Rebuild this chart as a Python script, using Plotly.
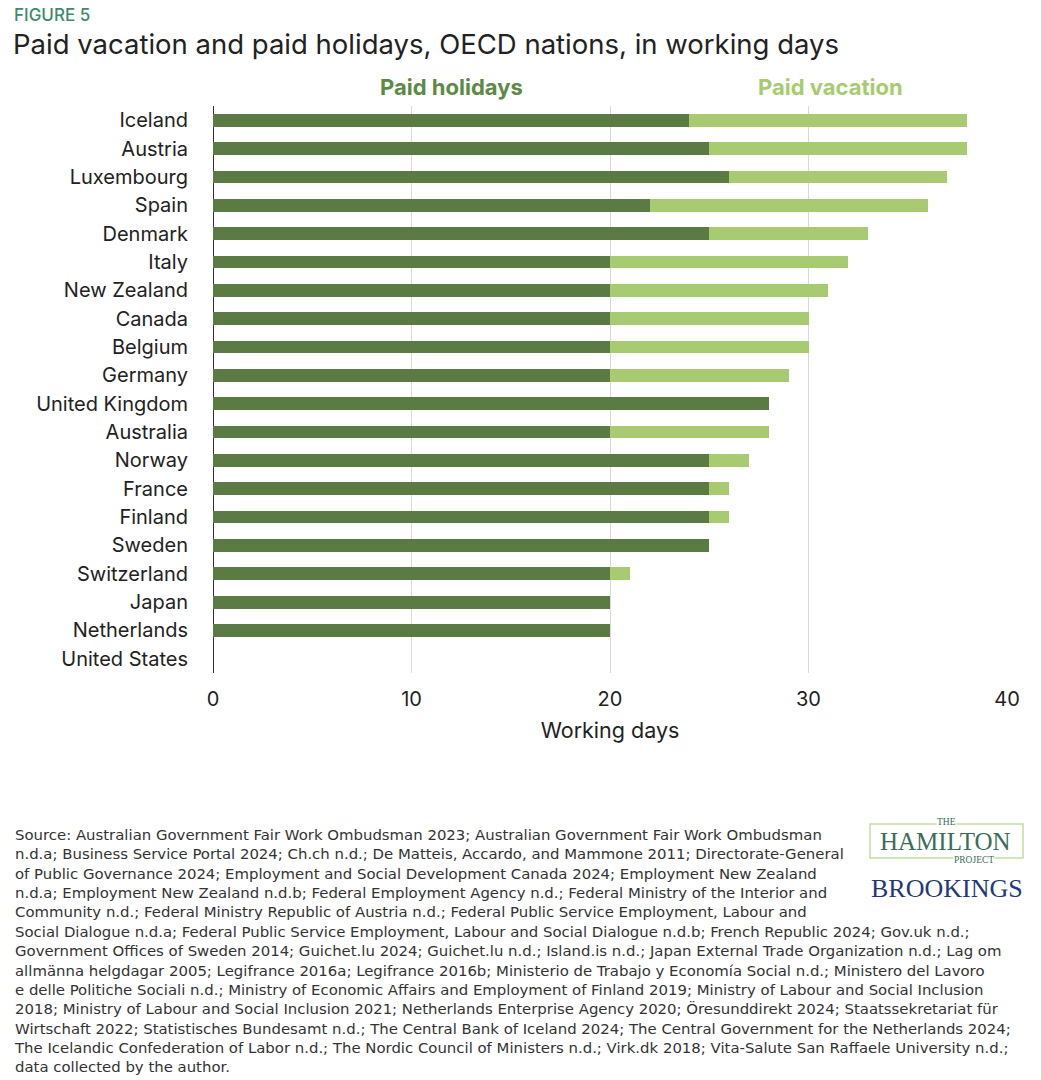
import plotly.graph_objects as go

countries = ["Iceland", "Austria", "Luxembourg", "Spain", "Denmark", "Italy", "New Zealand",
             "Canada", "Belgium", "Germany", "United Kingdom", "Australia", "Norway", "France",
             "Finland", "Sweden", "Switzerland", "Japan", "Netherlands", "United States"]
paid_holidays = [24, 25, 26, 22, 25, 20, 20, 20, 20, 20, 28, 20, 25, 25, 25, 25, 20, 20, 20, 0]
paid_vacation = [14, 13, 11, 14, 8, 12, 11, 10, 10, 9, 0, 8, 2, 1, 1, 0, 1, 0, 0, 0]
x_ticks = [0, 10, 20, 30, 40]

DARK = "#5a7c44"
LIGHT = "#a8cb72"
BODY = "Inter, Noto Sans, sans-serif"
SERIF = "Liberation Serif, DejaVu Serif, serif"

W, H = 1041, 1080
L, R, T, B = 213, 34, 106, 407
pw, ph = W - L - R, H - T - B

def px(x):
    return (x - L) / pw

def py(y):
    return (H - B - y) / ph

fig = go.Figure()
fig.add_trace(go.Bar(y=countries, x=paid_holidays, orientation="h", marker_color=DARK,
                     marker_line_width=0, width=0.45, name="Paid holidays"))
fig.add_trace(go.Bar(y=countries, x=paid_vacation, orientation="h", marker_color=LIGHT,
                     marker_line_width=0, width=0.45, name="Paid vacation"))

source = ("Source: Australian Government Fair Work Ombudsman 2023; Australian Government Fair Work Ombudsman<br>"
          "n.d.a; Business Service Portal 2024; Ch.ch n.d.; De Matteis, Accardo, and Mammone 2011; Directorate-General<br>"
          "of Public Governance 2024; Employment and Social Development Canada 2024; Employment New Zealand<br>"
          "n.d.a; Employment New Zealand n.d.b; Federal Employment Agency n.d.; Federal Ministry of the Interior and<br>"
          "Community n.d.; Federal Ministry Republic of Austria n.d.; Federal Public Service Employment, Labour and<br>"
          "Social Dialogue n.d.a; Federal Public Service Employment, Labour and Social Dialogue n.d.b; French Republic 2024; Gov.uk n.d.;<br>"
          "Government Offices of Sweden 2014; Guichet.lu 2024; Guichet.lu n.d.; Island.is n.d.; Japan External Trade Organization n.d.; Lag om<br>"
          "allmänna helgdagar 2005; Legifrance 2016a; Legifrance 2016b; Ministerio de Trabajo y Economía Social n.d.; Ministero del Lavoro<br>"
          "e delle Politiche Sociali n.d.; Ministry of Economic Affairs and Employment of Finland 2019; Ministry of Labour and Social Inclusion<br>"
          "2018; Ministry of Labour and Social Inclusion 2021; Netherlands Enterprise Agency 2020; Öresunddirekt 2024; Staatssekretariat für<br>"
          "Wirtschaft 2022; Statistisches Bundesamt n.d.; The Central Bank of Iceland 2024; The Central Government for the Netherlands 2024;<br>"
          "The Icelandic Confederation of Labor n.d.; The Nordic Council of Ministers n.d.; Virk.dk 2018; Vita-Salute San Raffaele University n.d.;<br>"
          "data collected by the author.")

def ann(text, x, y, size, color, family=BODY, xanchor="left", yanchor="middle", **kw):
    d = dict(text=text, x=px(x), y=py(y), xref="paper", yref="paper", showarrow=False,
             xanchor=xanchor, yanchor=yanchor, font=dict(family=family, size=size, color=color))
    d["font"].update(kw.pop("font_extra", {}))
    d.update(kw)
    return d

annotations = [
    ann("FIGURE 5", 12, 15, 17, "#3d8a6c", font_extra=dict(weight=500)),
    ann("Paid vacation and paid holidays, OECD nations, in working days", 11, 44, 27.5, "#222222"),
    ann("Paid holidays", 451, 87, 22, "#5b8a45", xanchor="center", font_extra=dict(weight="bold")),
    ann("Paid vacation", 830, 87, 22, "#a6cc70", xanchor="center", font_extra=dict(weight="bold")),
    ann(source, 12, 824, 14.9, "#333333", family="DejaVu Sans, sans-serif", yanchor="top", align="left"),
    ann("HAMILTON", 945, 841, 25, "#3a6e5a", family=SERIF, xanchor="center"),
    ann("THE", 946, 822, 9.5, "#3a6e5a", family=SERIF, xanchor="center", bgcolor="white", borderpad=0),
    ann("PROJECT", 974, 860, 9.5, "#3a6e5a", family=SERIF, xanchor="center", bgcolor="white", borderpad=0),
    ann("BROOKINGS", 947, 888, 26, "#1f3a78", family=SERIF, xanchor="center"),
]

fig.update_layout(
    width=W, height=H,
    margin=dict(l=L, r=R, t=T, b=B),
    barmode="stack",
    showlegend=False,
    plot_bgcolor="white", paper_bgcolor="white",
    xaxis=dict(range=[0, 40], tickvals=x_ticks, showgrid=True, gridcolor="#d9d9d9", gridwidth=1,
               zeroline=True, zerolinecolor="#333333", zerolinewidth=1,
               tickfont=dict(family=BODY, size=20, color="#222"), ticks="", ticklabelstandoff=12,
               title=dict(text="Working days", font=dict(family=BODY, size=21.5, color="#222"), standoff=12),
               fixedrange=True),
    yaxis=dict(categoryorder="array", categoryarray=countries, autorange="reversed",
               tickfont=dict(family=BODY, size=20, color="#222"), ticks="", ticklabelstandoff=24,
               showgrid=False),
    annotations=annotations,
)

fig.add_shape(type="rect", xref="paper", yref="paper", x0=px(870), x1=px(1023), y0=py(824), y1=py(858),
              line=dict(color="#c5dea0", width=1.5), fillcolor="rgba(0,0,0,0)", layer="below")

fig.write_html("out.html")
